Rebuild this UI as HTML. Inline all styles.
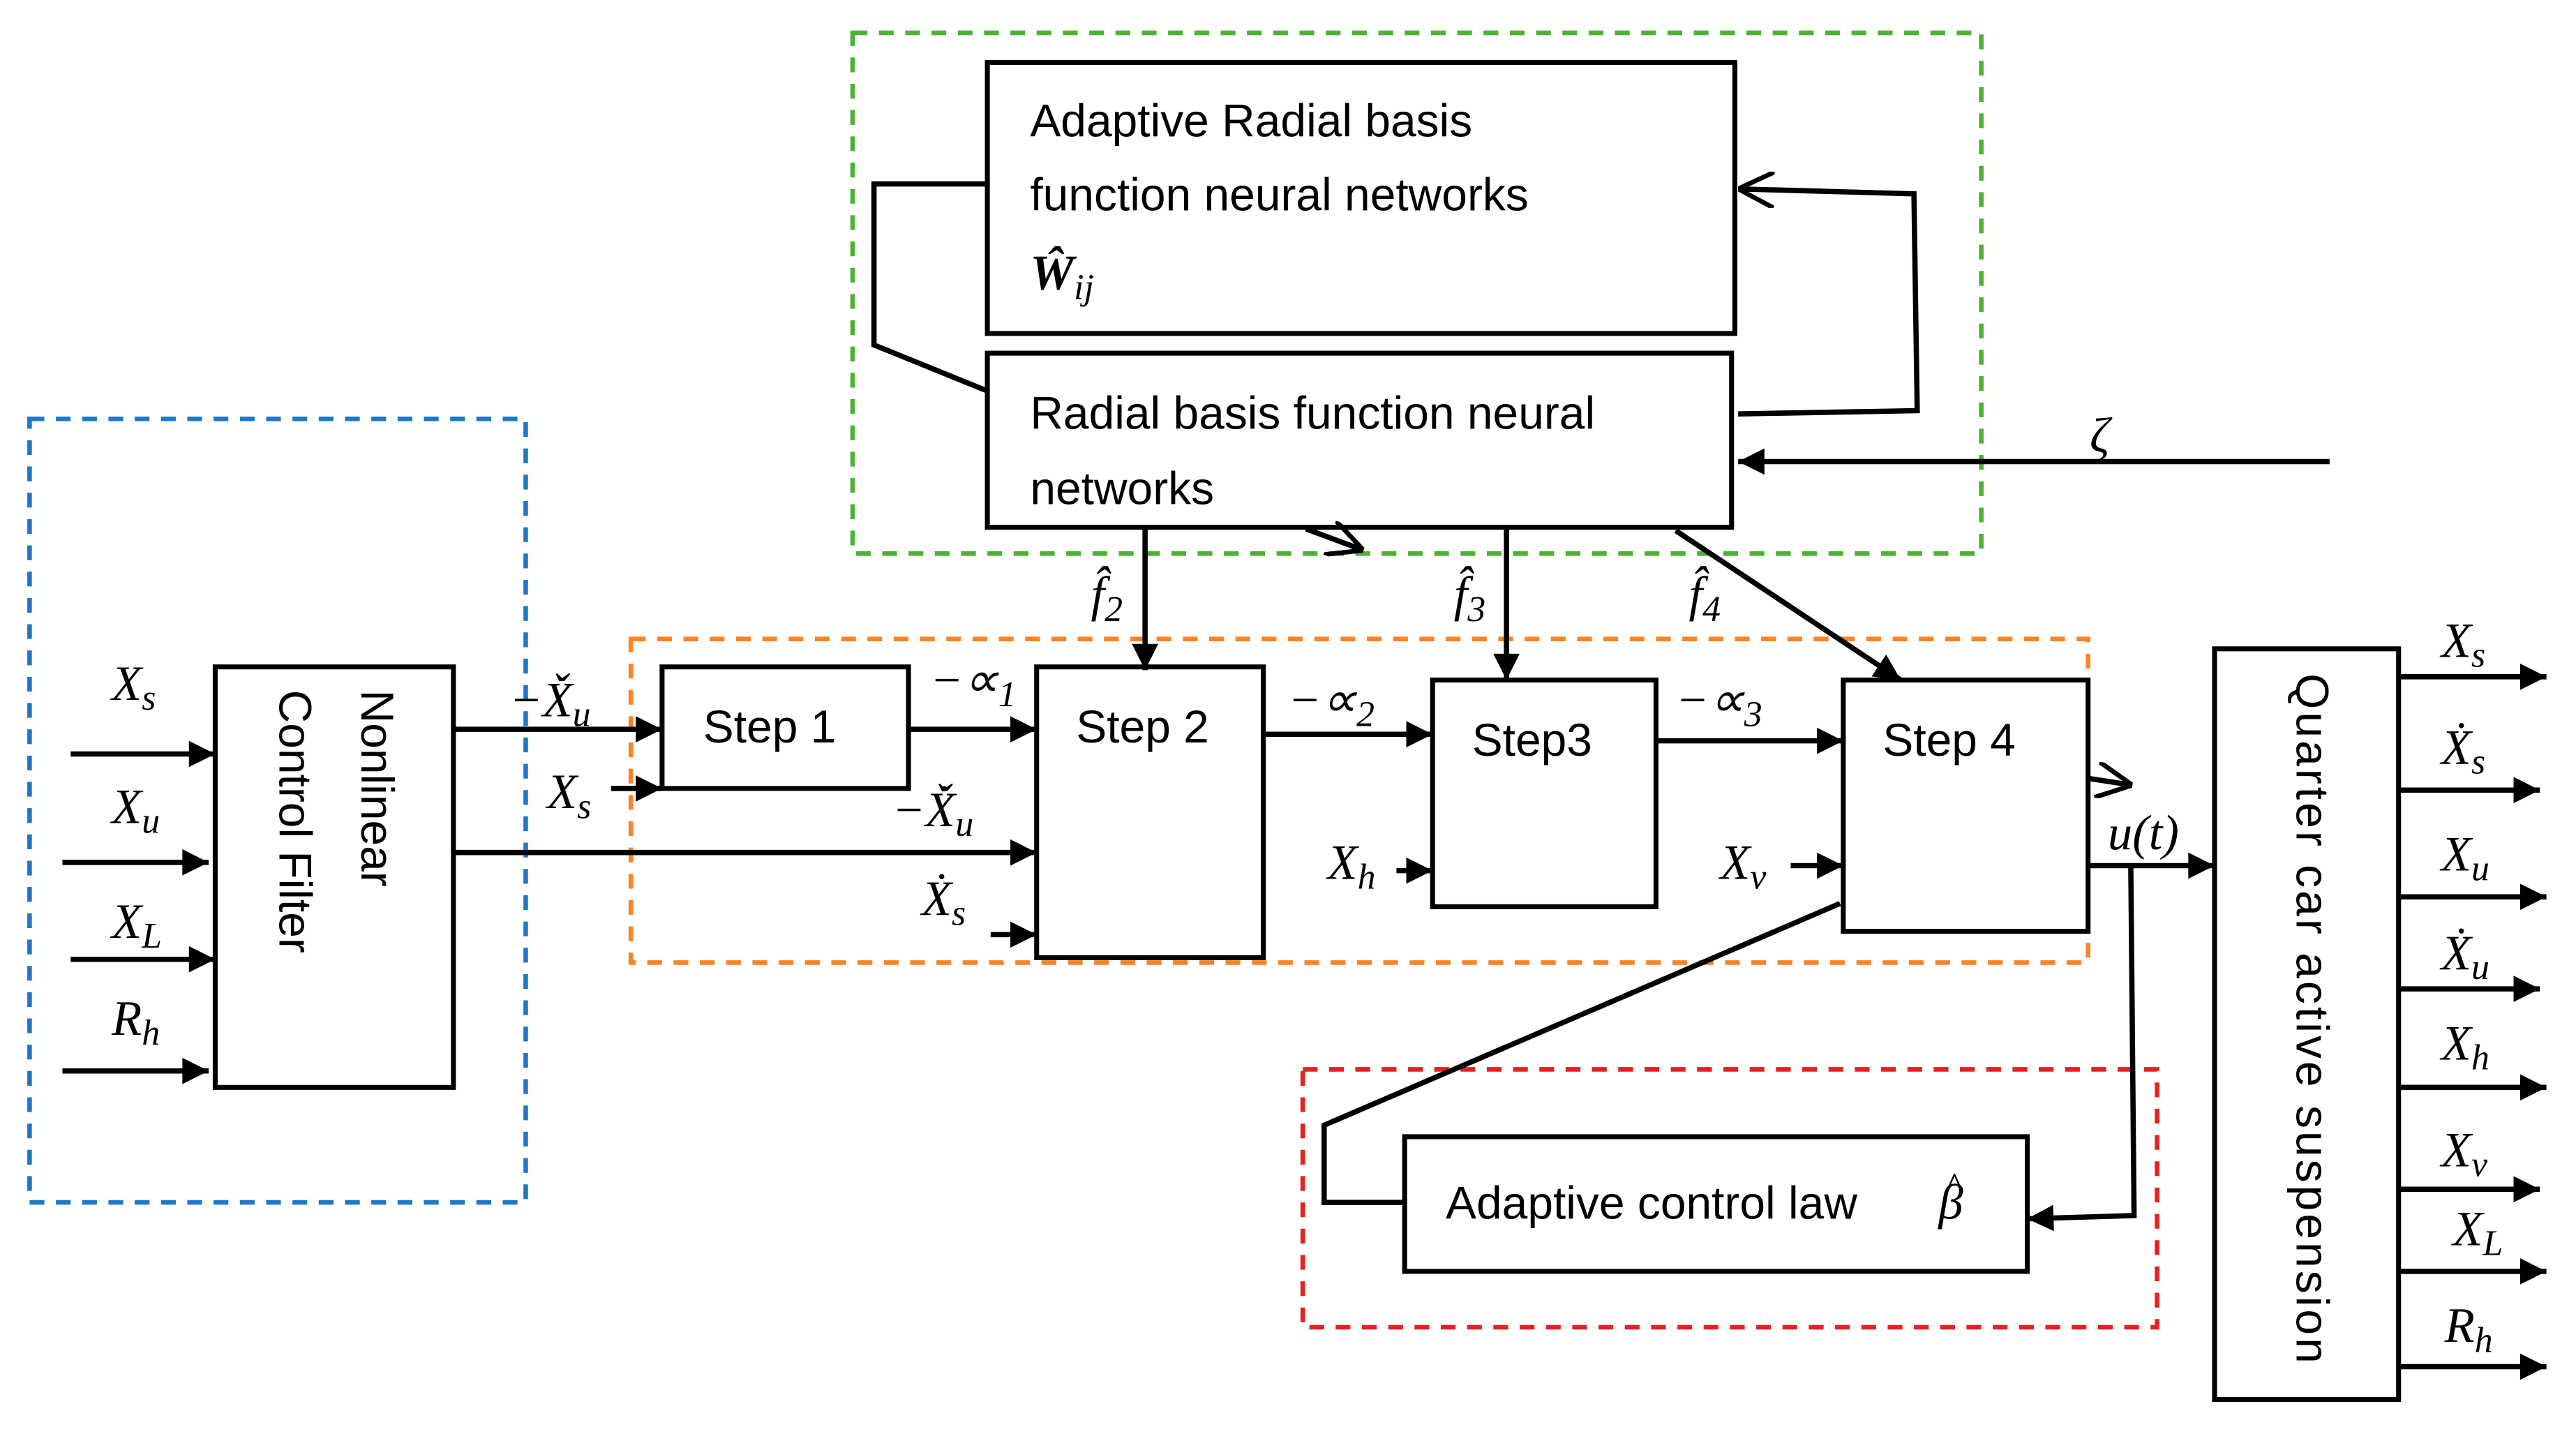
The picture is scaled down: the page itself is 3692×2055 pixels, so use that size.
<!DOCTYPE html>
<html><head><meta charset="utf-8"><style>
html,body{margin:0;padding:0;background:#fff;}
svg{display:block}
.t{font-family:"Liberation Sans",sans-serif;font-size:28px;fill:#000}
.m{font-family:"Liberation Serif",serif;font-style:italic;font-size:30px;fill:#000}
.s{font-size:22px}
</style></head><body>
<svg width="3692" height="2055" viewBox="0 0 1568 873" preserveAspectRatio="none" xmlns="http://www.w3.org/2000/svg">
<defs>
<marker id="A" viewBox="0 0 10 10" refX="10" refY="5" markerWidth="18" markerHeight="16" orient="auto" markerUnits="userSpaceOnUse"><path d="M0,0 L10,5 L0,10z" fill="#000"/></marker>
<marker id="o" viewBox="0 0 10 10" refX="10" refY="5" markerWidth="22" markerHeight="22" orient="auto" markerUnits="userSpaceOnUse"><path d="M0,0 L10,5 L0,10" fill="none" stroke="#000" stroke-width="1.3"/></marker>
</defs>
<g fill="none" stroke-width="2.8" stroke-dasharray="9,7">
<rect x="18" y="255" width="302" height="477" stroke="#1f77c8"/>
<rect x="519" y="20" width="687" height="317" stroke="#4cb233"/>
<rect x="384" y="389" width="887" height="197" stroke="#f98426"/>
<rect x="793" y="651" width="520" height="157" stroke="#e52122"/>
</g>
<g fill="#fff" stroke="#000" stroke-width="3">
<rect x="601" y="38" width="455" height="165"/>
<rect x="601" y="215" width="453" height="106"/>
<rect x="131" y="406" width="145" height="256"/>
<rect x="403" y="406" width="150" height="74"/>
<rect x="631" y="406" width="138" height="177"/>
<rect x="872" y="414" width="136" height="138"/>
<rect x="1122" y="414" width="149" height="153"/>
<rect x="1348" y="395" width="112" height="457"/>
<rect x="855" y="692" width="379" height="82"/>
</g>
<g fill="none" stroke="#000" stroke-width="3.2">
<polyline points="601,112 532,112 532,210 601,238"/>
<polyline points="1058,252 1167,250 1165,118 1058,115" marker-end="url(#o)"/>
<line x1="1418" y1="281" x2="1058" y2="281" marker-end="url(#A)"/>
<line x1="795" y1="322" x2="830" y2="335" marker-end="url(#o)"/>
<line x1="43" y1="459" x2="131" y2="459" marker-end="url(#A)"/>
<line x1="38" y1="525" x2="127" y2="525" marker-end="url(#A)"/>
<line x1="43" y1="584" x2="131" y2="584" marker-end="url(#A)"/>
<line x1="38" y1="652" x2="127" y2="652" marker-end="url(#A)"/>
<line x1="276" y1="444" x2="403" y2="444" marker-end="url(#A)"/>
<line x1="372" y1="480" x2="403" y2="480" marker-end="url(#A)"/>
<line x1="553" y1="444" x2="631" y2="444" marker-end="url(#A)"/>
<line x1="276" y1="519" x2="631" y2="519" marker-end="url(#A)"/>
<line x1="603" y1="569" x2="631" y2="569" marker-end="url(#A)"/>
<line x1="769" y1="447" x2="872" y2="447" marker-end="url(#A)"/>
<line x1="850" y1="530" x2="872" y2="530" marker-end="url(#A)"/>
<line x1="1008" y1="451" x2="1122" y2="451" marker-end="url(#A)"/>
<line x1="1090" y1="527" x2="1122" y2="527" marker-end="url(#A)"/>
<line x1="697" y1="321" x2="697" y2="408" marker-end="url(#A)"/>
<line x1="917" y1="321" x2="917" y2="414" marker-end="url(#A)"/>
<line x1="1020" y1="323" x2="1157" y2="414" marker-end="url(#A)"/>
<line x1="1271" y1="527" x2="1348" y2="527" marker-end="url(#A)"/>
<line x1="1272" y1="474" x2="1298" y2="478" marker-end="url(#o)"/>
<polyline points="1297,527 1299,740 1234,742" marker-end="url(#A)"/>
<polyline points="1120,550 806,685 806,732 855,732"/>
<line x1="1460" y1="412" x2="1550" y2="412" marker-end="url(#A)"/>
<line x1="1460" y1="481" x2="1546" y2="481" marker-end="url(#A)"/>
<line x1="1460" y1="546" x2="1550" y2="546" marker-end="url(#A)"/>
<line x1="1460" y1="602" x2="1546" y2="602" marker-end="url(#A)"/>
<line x1="1460" y1="662" x2="1550" y2="662" marker-end="url(#A)"/>
<line x1="1460" y1="724" x2="1546" y2="724" marker-end="url(#A)"/>
<line x1="1460" y1="774" x2="1550" y2="774" marker-end="url(#A)"/>
<line x1="1460" y1="832" x2="1550" y2="832" marker-end="url(#A)"/>
</g>
<text class="t" x="627" y="83">Adaptive Radial basis</text>
<text class="t" x="627" y="128">function neural networks</text>
<text class="m" x="627" y="176" style="font-weight:bold">Ŵ<tspan class="s" dy="6" style="font-weight:normal">ij</tspan></text>
<text class="t" x="627" y="261">Radial basis function neural</text>
<text class="t" x="627" y="307">networks</text>
<text class="m" x="1272" y="275">ζ</text>
<text class="t" transform="translate(220,420) rotate(90)">Nonlinear</text>
<text class="t" transform="translate(170,420) rotate(90)">Control Filter</text>
<text class="t" transform="translate(1398,410) rotate(90)" textLength="420" lengthAdjust="spacing">Quarter car active suspension</text>
<text class="t" x="428" y="452">Step 1</text>
<text class="t" x="655" y="452">Step 2</text>
<text class="t" x="896" y="460">Step3</text>
<text class="t" x="1146" y="460">Step 4</text>
<text class="t" x="880" y="742">Adaptive control law</text>
<text class="m" x="1180" y="742">β</text>
<text class="m" x="1184" y="730" style="font-size:24px;font-style:normal">^</text>
<g class="m">
<text x="68" y="426">X<tspan class="s" dy="6">s</tspan></text>
<text x="68" y="501">X<tspan class="s" dy="6">u</tspan></text>
<text x="68" y="571">X<tspan class="s" dy="6">L</tspan></text>
<text x="68" y="630">R<tspan class="s" dy="6">h</tspan></text>
<text x="310" y="436">−X̌<tspan class="s" dy="6">u</tspan></text>
<text x="333" y="492">X<tspan class="s" dy="6">s</tspan></text>
<text x="566" y="424">−∝<tspan class="s" dy="6">1</tspan></text>
<text x="543" y="503">−X̌̇<tspan class="s" dy="6">u</tspan></text>
<text x="561" y="557">Ẋ<tspan class="s" dy="6">s</tspan></text>
<text x="784" y="436">−∝<tspan class="s" dy="6">2</tspan></text>
<text x="808" y="535">X<tspan class="s" dy="6">h</tspan></text>
<text x="1020" y="436">−∝<tspan class="s" dy="6">3</tspan></text>
<text x="1047" y="535">X<tspan class="s" dy="6">v</tspan></text>
<text x="664" y="372">f̂<tspan class="s" dy="6">2</tspan></text>
<text x="885" y="372">f̂<tspan class="s" dy="6">3</tspan></text>
<text x="1028" y="372">f̂<tspan class="s" dy="6">4</tspan></text>
<text x="1283" y="517">u(t)</text>
<text x="1486" y="400">X<tspan class="s" dy="6">s</tspan></text>
<text x="1486" y="465">Ẋ<tspan class="s" dy="6">s</tspan></text>
<text x="1486" y="530">X<tspan class="s" dy="6">u</tspan></text>
<text x="1486" y="590">Ẋ<tspan class="s" dy="6">u</tspan></text>
<text x="1486" y="645">X<tspan class="s" dy="6">h</tspan></text>
<text x="1486" y="710">X<tspan class="s" dy="6">v</tspan></text>
<text x="1493" y="758">X<tspan class="s" dy="6">L</tspan></text>
<text x="1488" y="817">R<tspan class="s" dy="6">h</tspan></text>
</g>
</svg>
</body></html>
